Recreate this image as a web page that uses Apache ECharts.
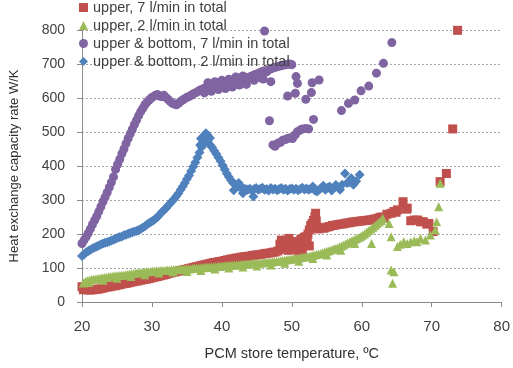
<!DOCTYPE html>
<html>
<head>
<meta charset="utf-8">
<script src="https://cdn.jsdelivr.net/npm/echarts@6/dist/echarts.min.js"></script>
<style>
  html, body { margin: 0; padding: 0; background: #fff; }
  #chart { width: 513px; height: 368px; }
</style>
</head>
<body>
<div id="chart"></div>
<script>
// series names (legend order)
const seriesNames = [
  'upper, 7 l/min in total',
  'upper, 2 l/min in total',
  'upper & bottom, 7 l/min in total',
  'upper & bottom, 2 l/min in total'
];
const xTicks = [20, 30, 40, 50, 60, 70, 80];
const yTicks = [0, 100, 200, 300, 400, 500, 600, 700, 800];

// upper, 7 l/min  (temperature, W/K)
const upper7 = [
  [19.6,50],[19.8,42],[20.0,45],[20.2,36],[20.4,38],[20.8,36],[21.2,35],[21.6,36],[22.0,37],[22.4,38],
  [22.8,40],[23.2,42],[23.6,44],[24.0,45],[24.4,47],[24.8,48],[25.2,50],[25.6,52],[26.0,54],[26.4,55],
  [26.8,57],[27.2,59],[27.6,61],[28.0,62],[28.4,64],[28.8,66],[29.2,67],[29.6,69],[30.0,71],[30.4,73],
  [30.8,75],[31.2,77],[31.6,79],[32.0,81],[32.4,84],[32.8,86],[33.2,88],[33.6,90],[34.0,92],[34.4,94],
  [34.8,96],[35.2,98],[35.6,100],[36.0,102],[36.4,104],[36.8,106],[37.2,108],[37.6,110],[38.0,112],[38.4,114],
  [38.8,116],[39.2,117],[39.6,119],[40.0,120],[40.4,122],[40.8,124],[41.2,126],[41.6,127],[42.0,129],[42.4,130],
  [42.8,132],[43.2,133],[43.6,134],[44.0,135],[44.4,137],[44.8,138],[45.2,139],[45.6,140],[46.0,142],[46.4,143],
  [46.8,144],[47.2,146],[47.6,147],[48.0,150],[48.4,155],
  [48.3,170],[48.5,182],[48.8,165],[49.1,178],[49.3,160],[49.6,187],[49.9,170],[50.1,155],[50.4,178],[50.7,160],
  [51.0,172],[51.3,185],[51.6,165],[52.0,192],[52.3,200],[52.5,212],[52.7,225],[52.9,231],[53.1,240],[53.3,251],
  [53.4,261],[53.5,238],[53.6,220],[52.2,175],[51.8,190],[50.9,150],[49.5,152],[51.5,152],[52.5,165],
  [53.8,215],[54.2,218],[54.6,217],[55.0,220],[55.4,222],[55.8,225],[56.2,226],[56.6,228],[57.0,229],[57.4,230],
  [57.8,232],[58.2,233],[58.6,235],[59.0,236],[59.4,237],[59.8,238],[60.2,239],[60.6,240],[61.0,241],[61.4,242],
  [61.8,244],[62.2,246],[62.6,249],[63.0,250],
  [63.2,246],[63.6,258],[64.2,261],[64.6,266],[64.9,264],[65.1,271],[65.9,295],[66.4,273],[66.5,276],[67.0,239],
  [67.5,241],[68.0,241],[68.4,236],[68.8,236],[69.3,229],[69.6,231],[70.2,207],[71.2,354],[72.1,378],[73.0,509],
  [73.7,799]
];

// upper, 2 l/min
const upper2 = [
  [19.6,45],[19.9,50],[20.2,56],[20.5,60],[20.8,63],[21.1,65],[21.4,66],[21.7,67],[22.0,68],[22.3,69],
  [22.6,70],[22.9,71],[23.2,72],[23.5,73],[23.8,74],[24.1,75],[24.4,76],[24.7,77],[25.0,77],[25.3,78],
  [25.6,79],[25.9,79],[26.2,80],[26.5,81],[26.8,82],[27.1,83],[27.4,84],[27.7,85],[28.0,86],[28.3,86],
  [28.6,87],[28.9,88],[29.2,89],[29.5,89],[29.8,90],[30.1,91],[30.4,91],[30.7,92],[31.0,92],[31.3,93],
  [31.6,93],[31.9,93],[32.2,94],[32.5,94],[32.8,94],[33.1,95],[33.4,95],[33.7,95],[34.0,96],[34.3,96],
  [34.6,97],[34.9,97],[35.2,98],[35.5,98],[35.8,99],[36.1,99],[36.4,100],[36.7,100],[37.0,101],[37.3,101],
  [37.6,102],[37.9,102],[38.2,103],[38.5,103],[38.8,104],[39.1,104],[39.4,105],[39.7,105],[40.0,106],[40.3,106],
  [40.6,107],[40.9,107],[41.2,108],[41.5,108],[41.8,109],[42.1,109],[42.4,110],[42.7,110],[43.0,111],[43.3,111],
  [43.6,112],[43.9,112],[44.2,113],[44.5,113],[44.8,114],[45.1,114],[45.4,115],[45.7,115],[46.0,116],[46.3,116],
  [46.6,117],[46.9,118],[47.2,118],[47.5,119],[47.8,120],[48.1,120],[48.4,121],[48.7,122],[49.0,123],[49.3,124],
  [49.6,125],[49.9,126],[50.2,127],[50.5,128],[50.8,129],[51.1,130],[51.4,131],[51.7,132],[52.0,133],[52.3,134],
  [52.6,135],[52.9,137],[53.2,138],[53.5,140],[53.8,141],[54.1,143],[54.4,145],[54.7,147],[55.0,149],[55.3,151],
  [55.6,153],[55.9,155],[56.2,157],[56.5,159],[56.8,162],[57.1,165],[57.4,168],[57.7,171],[58.0,174],[58.3,177],
  [58.6,180],[58.9,183],[59.2,186],[59.5,189],[59.8,192],[60.1,196],[60.4,200],[60.7,205],[61.0,210],[61.3,215],
  [61.6,220],[61.9,225],[62.2,230],[62.5,235],[62.8,240],[63.0,246],
  // lower edge of the band
  [21.0,57],[23.0,64],[25.0,70],[27.0,75],[29.0,80],[31.0,85],[33.0,88],[35.0,90],[37.0,93],[39.0,97],
  [41.0,100],[43.0,103],[45.0,106],[47.0,109],[49.0,114],[51.0,120],[53.0,128],[55.0,138],[57.0,152],[59.0,172],
  [61.4,172],[63.9,231],[64.2,192],[64.2,94],[64.6,89],[64.4,55],[65.1,163],[65.5,170],[66.0,177],[66.5,172],
  [67.0,177],[67.5,180],[67.9,177],[68.4,187],[69.1,182],[69.8,197],[70.5,212],[70.7,236],[71.0,280],[71.2,349]
];

// upper & bottom, 7 l/min
const both7 = [
  [20.0,172],[20.3,182],[20.6,192],[20.9,203],[21.2,215],[21.5,228],[21.8,240],[22.1,252],[22.4,266],[22.7,280],
  [23.0,295],[23.3,308],[23.6,322],[23.9,337],[24.2,352],[24.5,368],[24.8,390],[25.1,405],[25.4,420],[25.7,436],
  [26.0,450],[26.3,466],[26.6,481],[26.9,495],[27.2,508],[27.5,522],[27.8,535],[28.1,548],[28.4,560],[28.7,570],
  [29.0,580],[29.3,588],[29.6,594],[29.9,600],[30.2,604],[30.5,608],[30.8,610],[31.1,606],[31.4,604],[31.7,608],
  [32.0,602],[32.3,596],[32.6,590],[32.9,585],[33.2,582],[33.5,580],[33.8,584],[34.1,590],[34.4,594],[34.7,598],
  [35.0,602],[35.3,604],[35.6,608],[35.9,612],[36.2,615],[36.5,618],[36.8,622],[37.1,625],[37.4,628],[37.7,630],
  [38.0,632],[38.3,634],[38.6,636],[38.9,634],[39.2,638],[39.5,640],[39.8,638],[40.1,642],[40.4,644],[40.7,642],
  [41.0,646],[41.3,648],[41.6,646],[41.9,650],[42.2,652],[42.5,654],[42.8,656],[43.1,655],[43.4,660],[43.7,658],
  [44.0,662],[44.3,665],[44.6,668],[44.9,670],[45.2,672],[45.5,675],[45.8,678],[46.1,680],[46.4,677],[46.7,683],
  [47.0,686],[47.3,688],[47.6,690],[47.9,692],[48.2,694],[48.5,695],[48.8,697],[49.1,698],[49.4,699],[49.7,700],
  [50.0,698],
  [37.5,615],[38.5,620],[39.5,625],[40.5,628],[41.5,632],[42.5,638],[43.5,640],
  [38.0,645],[39.0,648],[40.0,652],[41.0,655],[42.0,662],[43.0,665],
  [44.6,652],[45.3,660],[45.9,656],[47.0,648],
  [46.1,797],[64.3,763],[63.1,702],[62.1,673],[61.0,635],[59.9,621],[59.0,594],[58.1,584],[57.1,563],
  [49.4,606],[50.5,614],[52.0,596],[52.8,616],[52.9,645],[53.9,653],[50.6,663],[50.8,643],
  [46.8,533],[53.1,537],
  [47.3,462],[47.6,458],[48.0,467],[48.4,470],[48.7,476],[49.1,478],[49.4,481],[49.8,483],[50.1,481],[50.5,492],
  [50.8,501],[51.2,506],[51.5,509],[52.0,510],[52.4,509]
];

// upper & bottom, 2 l/min
const both2 = [
  [19.9,133],[20.0,135],[20.3,140],[20.6,146],[20.9,150],[21.2,154],[21.5,157],[21.8,160],[22.1,163],[22.4,166],
  [22.7,169],[23.0,172],[23.3,174],[23.6,176],[23.9,178],[24.2,181],[24.5,183],[24.8,186],[25.1,189],[25.4,191],
  [25.7,193],[26.0,196],[26.3,198],[26.6,201],[26.9,203],[27.2,205],[27.5,207],[27.8,209],[28.1,212],[28.4,215],
  [28.7,219],[29.0,223],[29.3,228],[29.6,232],[29.9,236],[30.2,240],[30.5,245],[30.8,250],[31.1,257],[31.4,264],
  [31.7,270],[32.0,276],[32.3,283],[32.6,290],[32.9,297],[33.2,304],[33.5,312],[33.8,320],[34.1,330],[34.4,340],
  [34.7,350],[35.0,362],[35.3,372],[35.6,385],[35.9,398],[36.2,410],[36.5,425],[36.8,440],[37.1,455],[37.4,465],
  [37.7,480],[37.5,488],[37.9,492],[38.3,482],[37.0,481],[37.7,496],[37.3,470],[36.9,462],
  [38.0,470],[38.3,462],[38.6,455],[38.9,445],[39.2,435],[39.5,425],[39.8,415],[40.1,402],[40.4,390],[40.7,378],
  [41.0,368],[41.3,358],[41.6,350],[41.9,345],[42.2,342],[42.5,338],[42.8,336],[43.1,334],[43.4,332],[43.7,330],
  [44.0,333],[44.3,328],[44.6,332],[44.9,335],[45.2,330],[45.5,333],[45.8,336],[46.1,330],[46.4,332],[46.7,328],
  [47.0,335],[47.3,331],[47.6,333],[47.9,329],[48.2,332],[48.5,335],[48.8,330],[49.1,333],[49.4,328],[49.7,332],
  [50.0,334],[50.3,330],[50.6,333],[50.9,329],[51.2,332],[51.5,336],[51.8,331],[52.1,334],[52.4,330],[52.7,333],
  [53.0,340],[53.3,328],[53.6,325],[53.9,330],[54.2,335],[54.5,342],[54.8,330],[55.1,336],[55.4,340],[55.7,328],
  [56.0,335],[56.3,344],[56.6,338],[56.9,330],[57.2,345],[57.6,378],[57.9,350],[58.2,352],[58.5,364],[58.8,345],
  [59.2,355],[59.7,374],
  [41.7,329],[44.5,310],[43.0,320],[42.4,350]
];

const textColor = '#404040';
const font = 'Liberation Sans';

let myChart = echarts.init(document.getElementById('chart'));
myChart.setOption({
  animation: false,
  color: ['#C0504D', '#9BBB59', '#8064A2', '#4F81BD'],
  textStyle: { fontFamily: font, color: textColor },
  grid: { left: 76, right: 10, top: 30, bottom: 66 },
  legend: {
    orient: 'vertical',
    left: 79,
    top: 0,
    padding: 0,
    itemWidth: 9,
    itemHeight: 9,
    itemGap: 3,
    textStyle: { fontSize: 14.5, lineHeight: 14, color: textColor, fontFamily: font },
    data: [
      { name: seriesNames[0], icon: 'rect' },
      { name: seriesNames[1], icon: 'triangle' },
      { name: seriesNames[2], icon: 'circle' },
      { name: seriesNames[3], icon: 'diamond' }
    ]
  },
  xAxis: {
    type: 'value',
    min: xTicks[0],
    max: xTicks[xTicks.length - 1],
    interval: 10,
    name: 'PCM store temperature, ºC',
    nameLocation: 'middle',
    nameGap: 44,
    nameTextStyle: { fontSize: 14.5, color: '#303030' },
    axisLine: { lineStyle: { color: '#8c8c8c' } },
    axisTick: { show: true, length: 5, lineStyle: { color: '#8c8c8c' } },
    axisLabel: { fontSize: 15, color: textColor, margin: 17 },
    splitLine: { show: false }
  },
  yAxis: {
    type: 'value',
    min: yTicks[0],
    max: yTicks[yTicks.length - 1],
    interval: 100,
    name: 'Heat exchange capacity rate W/K',
    nameLocation: 'middle',
    nameGap: 61,
    nameTextStyle: { fontSize: 13, color: '#303030' },
    axisLine: { show: true, lineStyle: { color: '#8c8c8c' } },
    axisTick: { show: true, length: 5, lineStyle: { color: '#8c8c8c' } },
    axisLabel: { fontSize: 14, color: textColor, margin: 17 },
    splitLine: { show: true, lineStyle: { color: '#a6a6a6', type: [2, 2], width: 1 } }
  },
  series: [
    { name: seriesNames[0], type: 'scatter', symbol: 'rect', symbolSize: 9, itemStyle: { opacity: 1 }, data: upper7 },
    { name: seriesNames[1], type: 'scatter', symbol: 'triangle', symbolSize: 9, itemStyle: { opacity: 1 }, data: upper2 },
    { name: seriesNames[2], type: 'scatter', symbol: 'circle', symbolSize: 9, itemStyle: { opacity: 1 }, data: both7 },
    { name: seriesNames[3], type: 'scatter', symbol: 'diamond', symbolSize: 10, itemStyle: { opacity: 1 }, data: both2 }
  ]
});
</script>
</body>
</html>
